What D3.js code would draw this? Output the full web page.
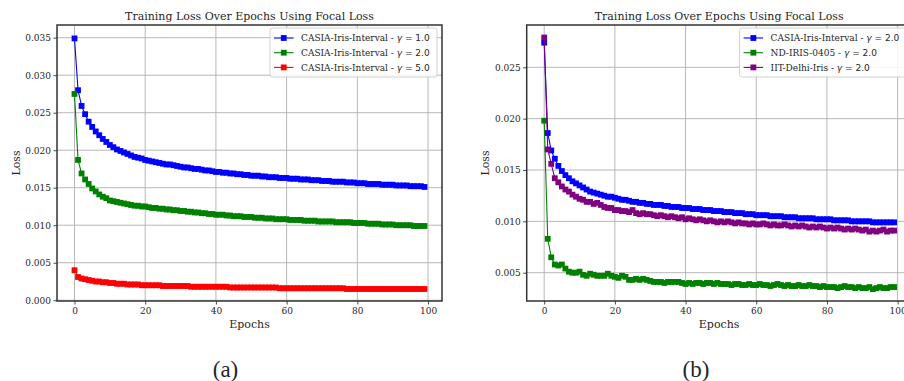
<!DOCTYPE html>
<html lang="en">
<head>
<meta charset="utf-8">
<title>Training Loss Over Epochs Using Focal Loss</title>
<script src="https://cdn.jsdelivr.net/npm/d3@7"></script>
<style>
  body { margin: 0; background: #fff; }
  svg text { font-family: "DejaVu Serif", serif; fill: #262626; }
</style>
</head>
<body>
<div id="wrapper"></div>
<script>
// ---- data ----
const epochs = d3.range(100)
const xTicks = [0, 20, 40, 60, 80, 100]
const yTicksA = [0.000, 0.005, 0.010, 0.015, 0.020, 0.025, 0.030, 0.035]
const yTicksB = [0.005, 0.010, 0.015, 0.020, 0.025]

const casiaGamma1 = [
  0.0349, 0.0280, 0.0259, 0.0248, 0.0238, 0.0231, 0.0225, 0.0220, 0.0215, 0.0211,
  0.0207, 0.0204, 0.0201, 0.0199, 0.0197, 0.0195, 0.0193, 0.0191, 0.0190, 0.0189,
  0.0187, 0.0186, 0.0185, 0.0184, 0.0183, 0.0182, 0.0181, 0.0181, 0.0180, 0.0179,
  0.0178, 0.0177, 0.0177, 0.0176, 0.0175, 0.0175, 0.0174, 0.0173, 0.0173, 0.0172,
  0.0171, 0.0171, 0.0170, 0.0170, 0.0169, 0.0169, 0.0168, 0.0168, 0.0167, 0.0167,
  0.0166, 0.0166, 0.0166, 0.0165, 0.0165, 0.0164, 0.0164, 0.0164, 0.0163, 0.0163,
  0.0163, 0.0162, 0.0162, 0.0162, 0.0161, 0.0161, 0.0161, 0.0160, 0.0160, 0.0160,
  0.0159, 0.0159, 0.0159, 0.0158, 0.0158, 0.0158, 0.0158, 0.0157, 0.0157, 0.0157,
  0.0156, 0.0156, 0.0156, 0.0155, 0.0155, 0.0155, 0.0155, 0.0154, 0.0154, 0.0154,
  0.0154, 0.0153, 0.0153, 0.0153, 0.0153, 0.0152, 0.0152, 0.0152, 0.0152, 0.0151
]
const casiaGamma2 = [
  0.0275, 0.0187, 0.0169, 0.0161, 0.0155, 0.0149, 0.0145, 0.0141, 0.0138, 0.0136,
  0.0133, 0.0132, 0.0131, 0.0130, 0.0129, 0.0128, 0.0127, 0.0126, 0.0126, 0.0125,
  0.0125, 0.0124, 0.0123, 0.0123, 0.0122, 0.0122, 0.0121, 0.0121, 0.0120, 0.0120,
  0.0119, 0.0119, 0.0118, 0.0118, 0.0117, 0.0117, 0.0116, 0.0116, 0.0115, 0.0115,
  0.0114, 0.0114, 0.0114, 0.0113, 0.0113, 0.0112, 0.0112, 0.0112, 0.0111, 0.0111,
  0.0111, 0.0110, 0.0110, 0.0110, 0.0109, 0.0109, 0.0109, 0.0108, 0.0108, 0.0108,
  0.0108, 0.0107, 0.0107, 0.0107, 0.0107, 0.0106, 0.0106, 0.0106, 0.0106, 0.0105,
  0.0105, 0.0105, 0.0105, 0.0105, 0.0104, 0.0104, 0.0104, 0.0104, 0.0104, 0.0103,
  0.0103, 0.0103, 0.0103, 0.0102, 0.0102, 0.0102, 0.0102, 0.0101, 0.0101, 0.0101,
  0.0101, 0.0100, 0.0100, 0.0100, 0.0100, 0.0100, 0.0099, 0.0099, 0.0099, 0.0099
]
const casiaGamma5 = [
  0.0040, 0.0031, 0.0029, 0.0028, 0.0027, 0.0026, 0.0025, 0.0025, 0.0024, 0.0024,
  0.0023, 0.0023, 0.0022, 0.0022, 0.0022, 0.0021, 0.0021, 0.0021, 0.0021, 0.0020,
  0.0020, 0.0020, 0.0020, 0.0020, 0.0020, 0.0019, 0.0019, 0.0019, 0.0019, 0.0019,
  0.0019, 0.0019, 0.0019, 0.0018, 0.0018, 0.0018, 0.0018, 0.0018, 0.0018, 0.0018,
  0.0018, 0.0018, 0.0018, 0.0018, 0.0017, 0.0017, 0.0017, 0.0017, 0.0017, 0.0017,
  0.0017, 0.0017, 0.0017, 0.0017, 0.0017, 0.0017, 0.0017, 0.0017, 0.0016, 0.0016,
  0.0016, 0.0016, 0.0016, 0.0016, 0.0016, 0.0016, 0.0016, 0.0016, 0.0016, 0.0016,
  0.0016, 0.0016, 0.0016, 0.0016, 0.0016, 0.0016, 0.0016, 0.0015, 0.0015, 0.0015,
  0.0015, 0.0015, 0.0015, 0.0015, 0.0015, 0.0015, 0.0015, 0.0015, 0.0015, 0.0015,
  0.0015, 0.0015, 0.0015, 0.0015, 0.0015, 0.0015, 0.0015, 0.0015, 0.0015, 0.0015
]

const casiaB = [
  0.0274, 0.0186, 0.0169, 0.0161, 0.0154, 0.0149, 0.0145, 0.0142, 0.0139, 0.0137,
  0.0135, 0.0133, 0.0131, 0.0129, 0.0128, 0.0127, 0.0126, 0.0125, 0.0124, 0.0124,
  0.0123, 0.0122, 0.0121, 0.0121, 0.0120, 0.0119, 0.0119, 0.0118, 0.0118, 0.0117,
  0.0117, 0.0116, 0.0116, 0.0116, 0.0115, 0.0115, 0.0114, 0.0114, 0.0114, 0.0113,
  0.0113, 0.0113, 0.0112, 0.0112, 0.0112, 0.0111, 0.0111, 0.0111, 0.0110, 0.0110,
  0.0110, 0.0109, 0.0109, 0.0109, 0.0108, 0.0108, 0.0108, 0.0107, 0.0107, 0.0107,
  0.0106, 0.0106, 0.0106, 0.0106, 0.0105, 0.0105, 0.0105, 0.0105, 0.0104, 0.0104,
  0.0104, 0.0104, 0.0103, 0.0103, 0.0103, 0.0103, 0.0103, 0.0102, 0.0102, 0.0102,
  0.0102, 0.0102, 0.0101, 0.0101, 0.0101, 0.0101, 0.0101, 0.0100, 0.0100, 0.0100,
  0.0100, 0.0100, 0.0100, 0.0099, 0.0099, 0.0099, 0.0099, 0.0099, 0.0099, 0.0099
]
const ndIris = [
  0.0198, 0.0083, 0.0065, 0.0058, 0.0057, 0.0058, 0.0054, 0.0051, 0.0050, 0.0050,
  0.0051, 0.0048, 0.0047, 0.0049, 0.0048, 0.0047, 0.0047, 0.0047, 0.0049, 0.0047,
  0.0046, 0.0045, 0.0047, 0.0046, 0.0043, 0.0043, 0.0044, 0.0043, 0.0044, 0.0043,
  0.0042, 0.0041, 0.0041, 0.0041, 0.0040, 0.0041, 0.0041, 0.0041, 0.0041, 0.0040,
  0.0039, 0.0040, 0.0039, 0.0040, 0.0040, 0.0039, 0.0040, 0.0040, 0.0039, 0.0040,
  0.0039, 0.0039, 0.0039, 0.0038, 0.0039, 0.0039, 0.0038, 0.0038, 0.0039, 0.0038,
  0.0038, 0.0039, 0.0038, 0.0038, 0.0037, 0.0038, 0.0039, 0.0038, 0.0037, 0.0038,
  0.0037, 0.0037, 0.0038, 0.0037, 0.0037, 0.0038, 0.0037, 0.0037, 0.0036, 0.0037,
  0.0036, 0.0036, 0.0036, 0.0035, 0.0036, 0.0037, 0.0036, 0.0036, 0.0035, 0.0036,
  0.0035, 0.0035, 0.0036, 0.0034, 0.0035, 0.0036, 0.0035, 0.0035, 0.0036, 0.0036
]
const iitDelhi = [
  0.0279, 0.0170, 0.0156, 0.0142, 0.0138, 0.0134, 0.0131, 0.0129, 0.0126, 0.0124,
  0.0122, 0.0121, 0.0119, 0.0119, 0.0117, 0.0118, 0.0116, 0.0114, 0.0113, 0.0113,
  0.0111, 0.0111, 0.0110, 0.0110, 0.0109, 0.0111, 0.0108, 0.0107, 0.0108, 0.0107,
  0.0107, 0.0106, 0.0105, 0.0106, 0.0105, 0.0104, 0.0105, 0.0104, 0.0103, 0.0104,
  0.0102, 0.0103, 0.0102, 0.0101, 0.0102, 0.0101, 0.0100, 0.0101, 0.0100, 0.0099,
  0.0100, 0.0099, 0.0100, 0.0099, 0.0098, 0.0099, 0.0098, 0.0098, 0.0097, 0.0098,
  0.0097, 0.0097, 0.0098, 0.0097, 0.0096, 0.0097, 0.0096, 0.0096, 0.0097, 0.0096,
  0.0095, 0.0096, 0.0095, 0.0096, 0.0095, 0.0094, 0.0095, 0.0094, 0.0095, 0.0094,
  0.0093, 0.0094, 0.0093, 0.0094, 0.0093, 0.0092, 0.0093, 0.0092, 0.0093, 0.0092,
  0.0091, 0.0092, 0.0090, 0.0091, 0.0090, 0.0091, 0.0092, 0.0090, 0.0091, 0.0091
]

const panels = [
  {
    caption: "(a)",
    left: 57, right: 442,
    yDomain: [-0.0001, 0.03669],
    yTicks: yTicksA,
    series: [
      { name: "CASIA-Iris-Interval - ", gamma: "1.0", color: "#0000ff", values: casiaGamma1 },
      { name: "CASIA-Iris-Interval - ", gamma: "2.0", color: "#008000", values: casiaGamma2 },
      { name: "CASIA-Iris-Interval - ", gamma: "5.0", color: "#ff0000", values: casiaGamma5 },
    ]
  },
  {
    caption: "(b)",
    left: 526.7, right: 911.6,
    yDomain: [0.002244, 0.02912],
    yTicks: yTicksB,
    series: [
      { name: "CASIA-Iris-Interval - ", gamma: "2.0", color: "#0000ff", values: casiaB },
      { name: "ND-IRIS-0405 - ", gamma: "2.0", color: "#008000", values: ndIris },
      { name: "IIT-Delhi-Iris - ", gamma: "2.0", color: "#800080", values: iitDelhi },
    ]
  }
]

const width = 904, height = 381
const plotTop = 25, plotBottom = 301
const markerSize = 5.8

const svg = d3.select("#wrapper").append("svg")
  .attr("width", width)
  .attr("height", height)

panels.forEach(p => {
  const x = d3.scaleLinear().domain([-4.95, 103.95]).range([p.left, p.right])
  const y = d3.scaleLinear().domain(p.yDomain).range([plotBottom, plotTop])
  const g = svg.append("g")

  // grid
  g.append("g").selectAll("line")
    .data(xTicks).join("line")
    .attr("x1", d => x(d)).attr("x2", d => x(d))
    .attr("y1", plotTop).attr("y2", plotBottom)
    .attr("stroke", "#b0b0b0").attr("stroke-width", 0.9)
  g.append("g").selectAll("line")
    .data(p.yTicks).join("line")
    .attr("x1", p.left).attr("x2", p.right)
    .attr("y1", d => y(d)).attr("y2", d => y(d))
    .attr("stroke", "#b0b0b0").attr("stroke-width", 0.9)

  // series
  const line = d3.line().x((d, i) => x(epochs[i])).y(d => y(d))
  p.series.forEach(s => {
    const sg = g.append("g")
    sg.append("path")
      .attr("d", line(s.values))
      .attr("fill", "none")
      .attr("stroke", s.color)
      .attr("stroke-width", 1.1)
    sg.selectAll("rect")
      .data(s.values).join("rect")
      .attr("x", (d, i) => x(epochs[i]) - markerSize / 2)
      .attr("y", d => y(d) - markerSize / 2)
      .attr("width", markerSize).attr("height", markerSize)
      .attr("fill", s.color)
  })

  // axes
  const xAxis = g.append("g")
    .attr("transform", `translate(0,${plotBottom})`)
    .call(d3.axisBottom(x).tickValues(xTicks).tickFormat(d3.format("d")).tickSize(3.5).tickPadding(3))
  const yAxis = g.append("g")
    .attr("transform", `translate(${p.left},0)`)
    .call(d3.axisLeft(y).tickValues(p.yTicks).tickFormat(d3.format(".3f")).tickSize(3.5).tickPadding(2.5))
  ;[xAxis, yAxis].forEach(a => {
    a.select(".domain").remove()
    a.selectAll(".tick line").attr("stroke", "#333").attr("stroke-width", 0.9)
    a.selectAll(".tick text")
      .style("font-family", "DejaVu Serif")
      .style("font-size", "9px")
      .attr("fill", "#262626")
  })

  // spines
  g.append("rect")
    .attr("x", p.left).attr("y", plotTop)
    .attr("width", p.right - p.left).attr("height", plotBottom - plotTop)
    .attr("fill", "none")
    .attr("stroke", "#333")
    .attr("stroke-width", 1.5)

  // labels
  const cx = (p.left + p.right) / 2
  g.append("text")
    .attr("x", cx).attr("y", 19.5)
    .attr("text-anchor", "middle")
    .style("font-size", "11px")
    .text("Training Loss Over Epochs Using Focal Loss")
  g.append("text")
    .attr("x", cx).attr("y", 327.5)
    .attr("text-anchor", "middle")
    .style("font-size", "11px")
    .text("Epochs")
  g.append("text")
    .attr("transform", `translate(${p.left - 37.5},${(plotTop + plotBottom) / 2}) rotate(-90)`)
    .attr("text-anchor", "middle")
    .style("font-size", "11px")
    .text("Loss")
  g.append("text")
    .attr("x", p.caption === "(a)" ? 225.5 : 696)
    .attr("y", 377)
    .attr("text-anchor", "middle")
    .style("font-family", "Liberation Serif")
    .style("font-size", "23px")
    .text(p.caption)

  // legend
  const legW = 167, legH = 49
  const lg = g.append("g")
    .attr("transform", `translate(${p.right - 5 - legW},28)`)
  lg.append("rect")
    .attr("width", legW).attr("height", legH)
    .attr("rx", 2.5)
    .attr("fill", "rgba(255,255,255,0.85)")
    .attr("stroke", "#cccccc")
    .attr("stroke-width", 0.9)
  p.series.forEach((s, i) => {
    const ly = 10 + i * 14.7
    lg.append("line")
      .attr("x1", 4).attr("x2", 23.5)
      .attr("y1", ly).attr("y2", ly)
      .attr("stroke", s.color).attr("stroke-width", 1.1)
    lg.append("rect")
      .attr("x", 13.75 - markerSize / 2).attr("y", ly - markerSize / 2)
      .attr("width", markerSize).attr("height", markerSize)
      .attr("fill", s.color)
    const t = lg.append("text")
      .attr("x", 31).attr("y", ly + 3.3)
      .style("font-size", "9px")
    t.append("tspan").text(s.name)
    t.append("tspan")
      .style("font-family", "DejaVu Sans")
      .style("font-style", "italic")
      .text("γ")
    t.append("tspan")
      .style("font-family", "DejaVu Sans")
      .text(" = " + s.gamma)
  })
})
</script>
</body>
</html>
